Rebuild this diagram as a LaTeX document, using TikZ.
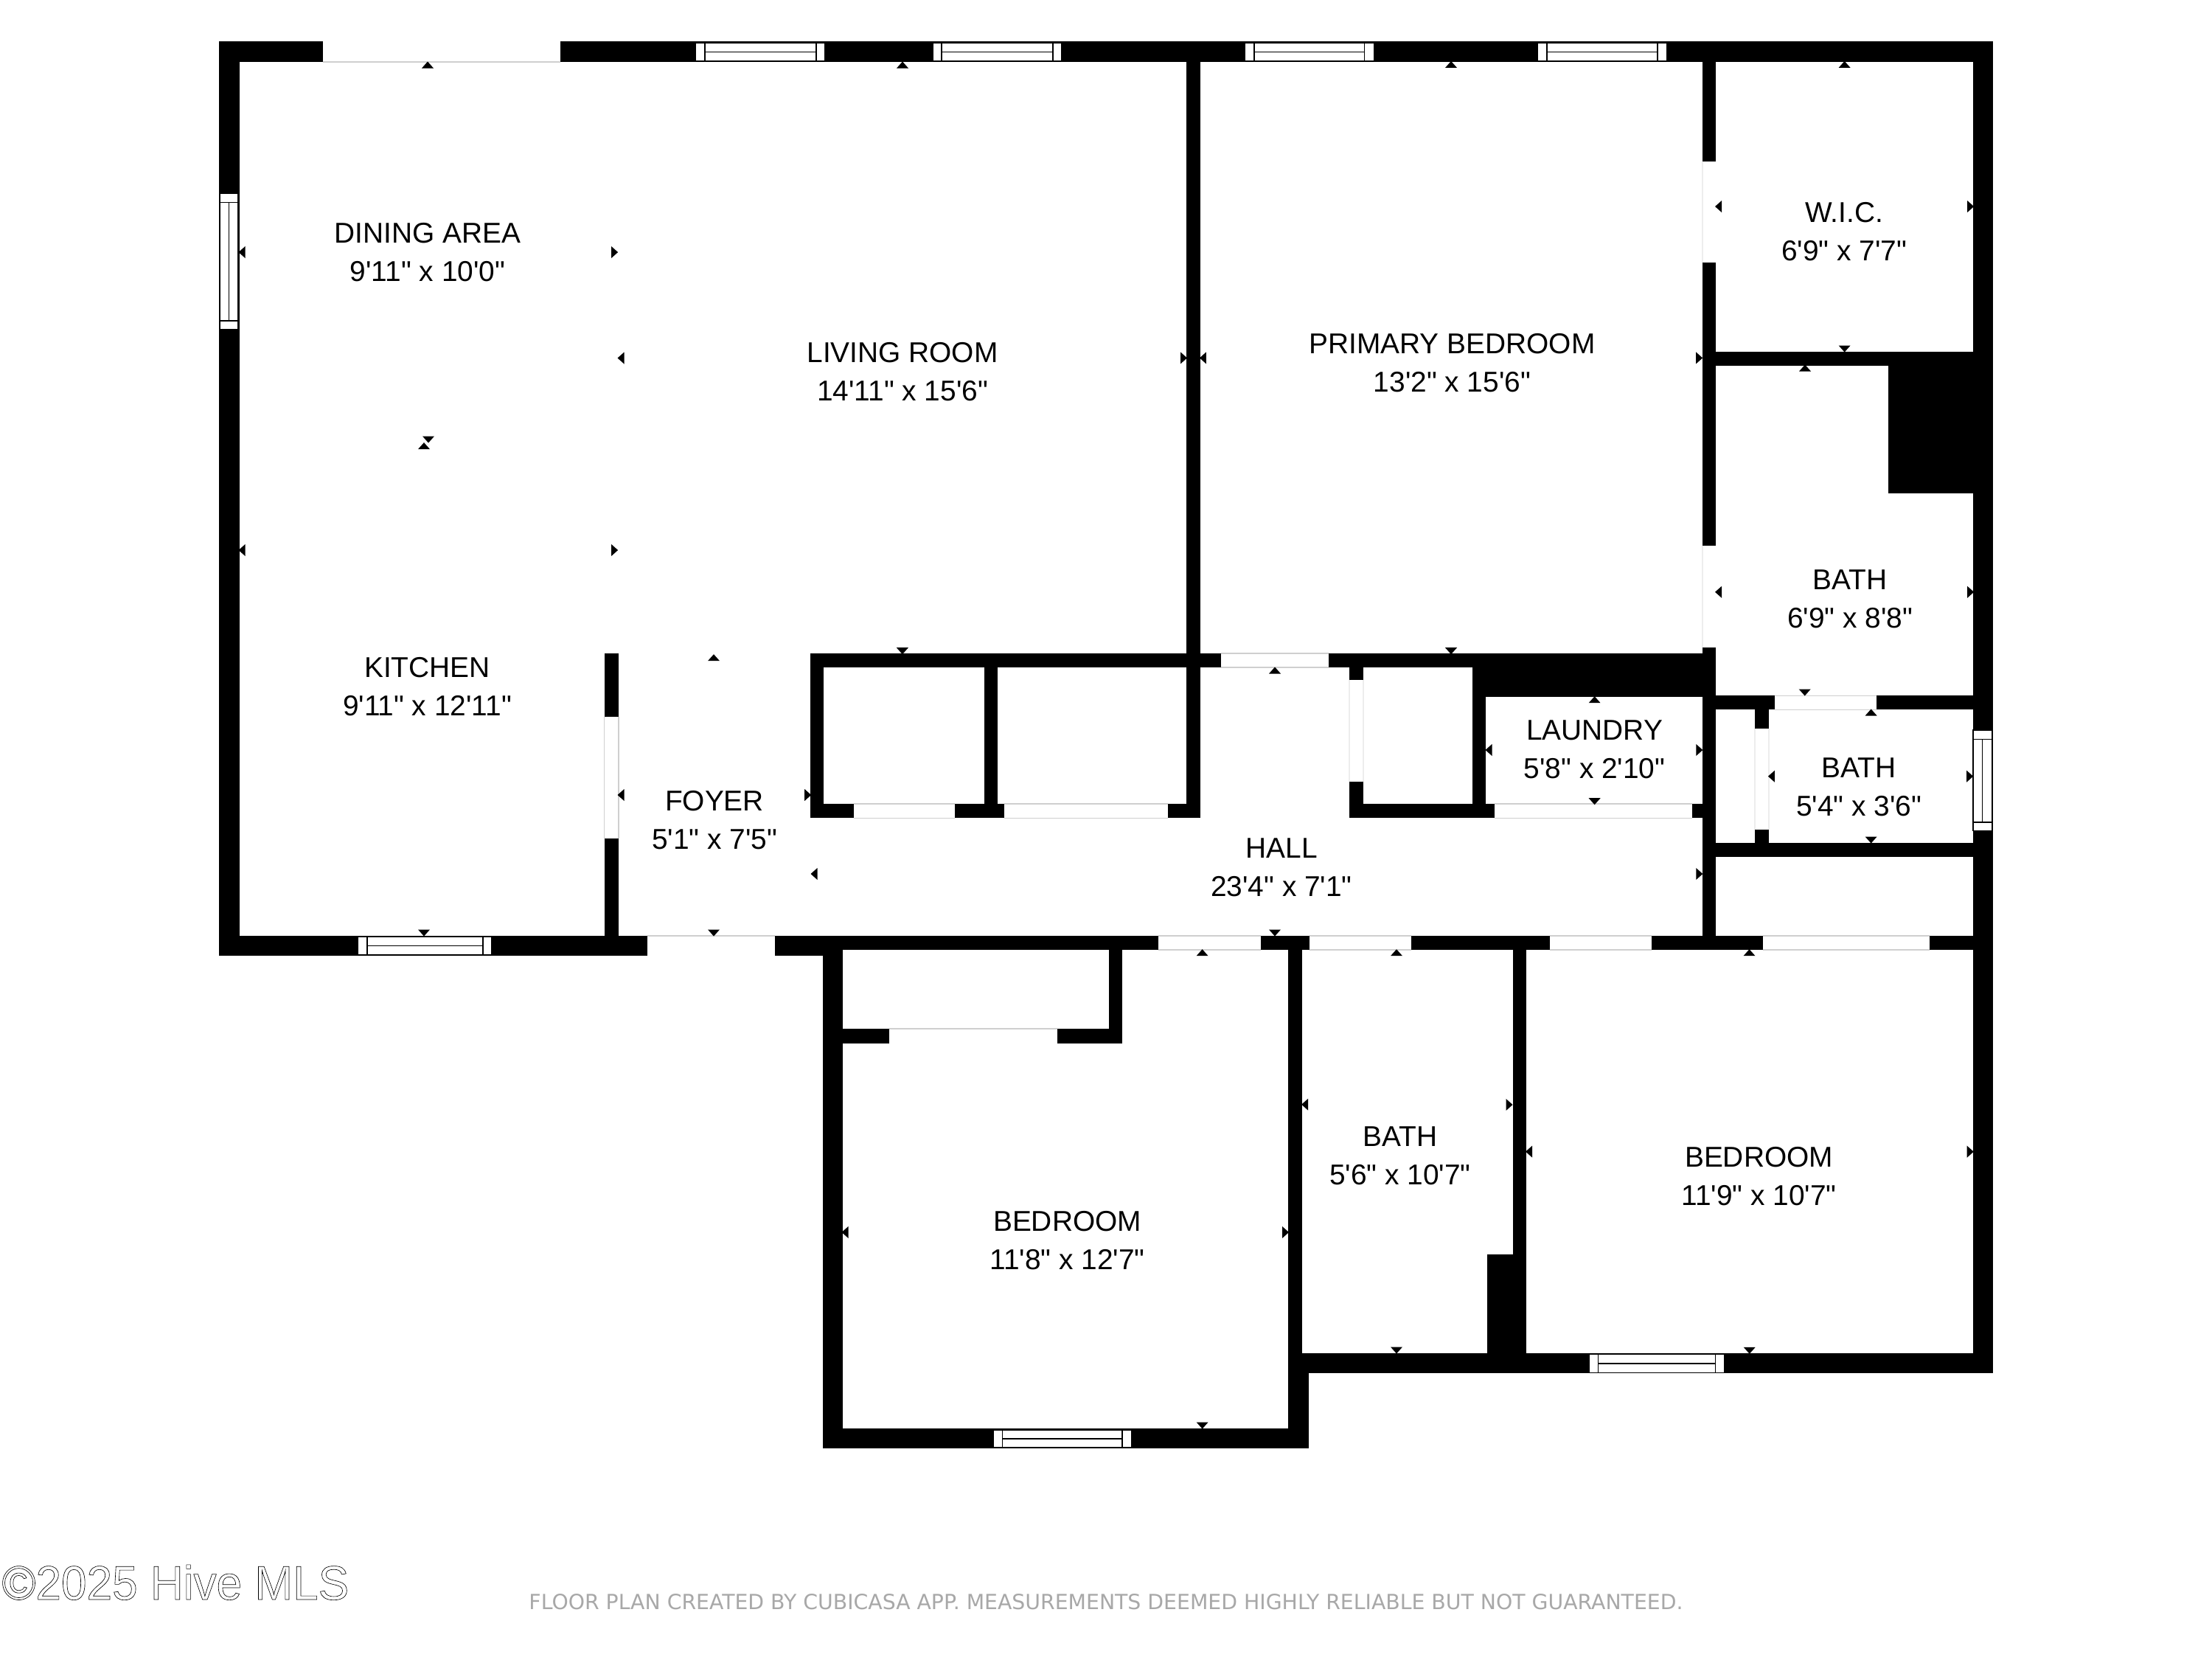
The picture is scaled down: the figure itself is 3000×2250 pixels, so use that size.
\documentclass[tikz,border=0pt]{standalone}
\usepackage{fontspec}
\newfontfamily\labfont{Liberation Sans}
\newfontfamily\footfont{DejaVu Sans}
\newfontfamily\wmfont[FakeStretch=0.955]{Liberation Sans}
\definecolor{doorline}{HTML}{CFCFCF}
\definecolor{doorfaint}{HTML}{EDEDED}
\definecolor{footgrey}{HTML}{A8A8A8}
\tikzset{
  wallfill/.style={fill=black},
  doorgap/.style={draw=doorline,line width=0.45pt},
  doorgapfaint/.style={draw=doorfaint,line width=0.45pt},
  winbox/.style={draw=black,fill=white,line width=0.4pt},
  winline/.style={draw=black,line width=0.4pt},
  dimtip/.style={fill=black},
  lab/.style={font=\labfont\fontsize{11.05}{13}\selectfont,anchor=base,inner sep=0pt,text=black},
  footnote/.style={font=\footfont\fontsize{8.05}{10}\selectfont,anchor=base,inner sep=0pt,text=footgrey},
  wmark/.style={font=\wmfont\fontsize{18.5}{20}\selectfont,anchor=base west,inner sep=0pt,text=black}
}
\newcommand{\roomlab}[5]{%
  \node[lab] (#1n) at (#2,#3+13.4) {#4};
  \node[lab] (#1d) at (#2,#3+65.4) {#5};}
\begin{document}
\begin{tikzpicture}[x=0.01cm,y=-0.01cm]
\path[use as bounding box,fill=white] (0,0) rectangle (3000,2250);
% walls
\foreach \a/\b/\c/\d in {
 297/56.3/437.5/84, 760/56.3/2702.5/84,
 297/56.3/324.5/1296, 2675.5/56.3/2702.5/1862.3,
 297/1269/877.6/1296,
 819.5/886/838.7/971.7, 819.5/1136.7/838.7/1269,
 1609/84/1628/1109.3,
 1099/886/1656.3/905, 1099/886/1117.4/1109.3, 1334.8/886/1352.7/1109.3,
 1099/1090/1157.5/1109.3, 1295.3/1090/1362.3/1109.3, 1583.6/1090/1628/1109.3,
 1802.3/886/2327/905, 1996.8/886/2327/945,
 1829.7/905/1848.9/922.3, 1829.7/1060/1848.9/1109.3, 1829.7/1090/2026.8/1109.3,
 1996.8/945/2015.3/1109.3, 2294.6/1090/2327/1109.3,
 2309/84/2327/218.6, 2309/356/2327/740, 2309/877.7/2327/1287.7,
 2327/476.7/2675.5/495.6, 2560.7/476.7/2675.5/669,
 2327/943.3/2406.9/962.3, 2544.6/943.3/2675.5/962.3,
 2380/962.3/2399.2/988.3, 2380/1125/2399.2/1143.3,
 2327/1143.3/2675.5/1162.3,
 1051/1269/1571.4/1287.7, 1051/1287/1116/1296,
 1709.8/1269/1775.5/1287.7, 1913.9/1269/2102/1287.7,
 2239.8/1269/2391/1287.7, 2617.3/1269/2702.5/1287.7,
 1116/1287/1143/1964.2,
 1503.7/1287/1522/1414.6, 1143/1394.9/1205.9/1414.6, 1433.5/1394.9/1522/1414.6,
 1747.4/1287/1766/1964.2, 1747.4/1835.2/1774.7/1964.2, 1116/1937/1774.7/1964.2,
 1766/1835.2/2702.5/1862.3,
 2051.6/1287/2069.6/1862.3, 2017/1700.7/2051.6/1835.2
}{\fill[wallfill] (\a,\b) rectangle (\c,\d);}
% door openings: faint edge lines
\foreach \a/\b/\c/\d in {
 437.5/84/760/84,
 819.5/971.7/819.5/1136.7, 838.7/971.7/838.7/1136.7,
 1157.5/1090/1295.3/1090, 1157.5/1109.3/1295.3/1109.3,
 1362.3/1090/1583.6/1090, 1362.3/1109.3/1583.6/1109.3,
 877.6/1269/1051/1269,
 1571.4/1269/1709.8/1269, 1571.4/1287.7/1709.8/1287.7,
 1775.5/1269/1913.9/1269, 1775.5/1287.7/1913.9/1287.7,
 2102/1269/2239.8/1269, 2102/1287.7/2239.8/1287.7,
 2391/1269/2617.3/1269, 2391/1287.7/2617.3/1287.7,
 1656.3/886/1802.3/886, 1656.3/905/1802.3/905,
 2026.8/1090/2294.6/1090, 2026.8/1109.3/2294.6/1109.3,
 2406.9/943.3/2544.6/943.3, 2406.9/962.3/2544.6/962.3,
 1205.9/1394.9/1433.5/1394.9
}{\draw[doorgap] (\a,\b) -- (\c,\d);}
\foreach \a/\b/\c/\d in {
 1829.7/922.3/1829.7/1060, 1848.9/922.3/1848.9/1060,
 2309/218.6/2309/356, 2309/740/2309/877.7,
 2380/988.3/2380/1125, 2399.2/988.3/2399.2/1125
}{\draw[doorgapfaint] (\a,\b) -- (\c,\d);}
% horizontal windows: x0/x1/inner x0/inner x1/y0/y1
\foreach \a/\b/\c/\d/\e/\f in {
 943/1119/956/1107/58/83,
 1265/1440/1277/1428/58/83,
 1688/1863.5/1701/1850.5/58/83,
 2085.4/2261/2098/2248/58/83,
 485.6/666.7/497.9/655/1270/1295,
 1347.4/1534.3/1359.6/1522/1939/1963,
 2155.5/2338.3/2167.5/2326.3/1836.4/1861.7
}{
 \draw[winbox] (\a,\e) rectangle (\b,\f);
 \draw[winline] (\c,\e) -- (\c,\f) (\d,\e) -- (\d,\f) (\c,{(\e+\f)/2}) -- (\d,{(\e+\f)/2});
}
% vertical windows: y0/y1/inner y0/inner y1/x0/x1
\foreach \a/\b/\c/\d/\e/\f in {
 262.5/446.7/274.4/435/298/323,
 990/1126.7/1002.7/1115/2676/2701.5
}{
 \draw[winbox] (\e,\a) rectangle (\f,\b);
 \draw[winline] (\e,\c) -- (\f,\c) (\e,\d) -- (\f,\d) ({(\e+\f)/2},\c) -- ({(\e+\f)/2},\d);
}
% measuring tips
\foreach \x/\y in {580/88,1224/88,1968/87.4,2501.6/87.4,2448/499,968/891.7,1729/909,2162.6/948.7,2537.6/966,1630.6/1291.7,1894/1291.7,2372.5/1291.7,575/604.6}
 {\fill[dimtip] (\x-8,\y+4.5) -- (\x+8,\y+4.5) -- (\x,\y-4.5) -- cycle;}
\foreach \x/\y in {581/596,2501.6/473,1223.9/882.7,1968/882.7,2162.6/1086.7,2447.7/939,2537.6/1139,968/1265,1729/1265,575/1265,1630.6/1933,1894/1831,2372.7/1831.3}
 {\fill[dimtip] (\x-8,\y-4.5) -- (\x+8,\y-4.5) -- (\x,\y+4.5) -- cycle;}
\foreach \x/\y in {328/342,842/485.5,328/746,1631.4/485.4,2330.5/280,2330.5/802.8,842/1078,1104/1185,2019/1017,2402.4/1052.7,1146/1671,1769.6/1497.7,2073.5/1561.6}
 {\fill[dimtip] (\x+4.5,\y-8) -- (\x+4.5,\y+8) -- (\x-4.5,\y) -- cycle;}
\foreach \x/\y in {833.6/342,833.6/746,1605.5/485.4,2304.6/485.4,2672.6/280,2672.6/802.8,1095.7/1078,2304.8/1017,2304.8/1185,2671.6/1052.7,1743.5/1671,2047/1498,2672.2/1561.7}
 {\fill[dimtip] (\x-4.5,\y-8) -- (\x-4.5,\y+8) -- (\x+4.5,\y) -- cycle;}
% room labels
\roomlab{din}{580}{316}{DINING AREA}{9'11" x 10'0"}
\roomlab{liv}{1224}{478}{LIVING ROOM}{14'11" x 15'6"}
\roomlab{pri}{1969.5}{466.5}{PRIMARY BEDROOM}{13'2" x 15'6"}
\roomlab{wic}{2501}{288}{W.I.C.}{6'9" x 7'7"}
\roomlab{bam}{2509}{786.4}{BATH}{6'9" x 8'8"}
\roomlab{kit}{579.5}{905}{KITCHEN}{9'11" x 12'11"}
\roomlab{foy}{969}{1086}{FOYER}{5'1" x 7'5"}
\roomlab{hal}{1738}{1150}{HALL}{23'4" x 7'1"}
\roomlab{lau}{2162.6}{990}{LAUNDRY}{5'8" x 2'10"}
\roomlab{bas}{2521}{1040.7}{BATH}{5'4" x 3'6"}
\roomlab{bea}{1447.5}{1655.7}{BEDROOM}{11'8" x 12'7"}
\roomlab{bah}{1899}{1541}{BATH}{5'6" x 10'7"}
\roomlab{beb}{2385.5}{1568.8}{BEDROOM}{11'9" x 10'7"}
% footer
\node[footnote] (foot) at (1500,2182.7) {FLOOR PLAN CREATED BY CUBICASA APP. MEASUREMENTS DEEMED HIGHLY RELIABLE BUT NOT GUARANTEED.};
\node[wmark] (mark) at (2,2169) {\special{pdf:code 1 Tr 0.18 w 0 G}©2025 Hive MLS\special{pdf:code 0 Tr}};
\end{tikzpicture}
\end{document}
